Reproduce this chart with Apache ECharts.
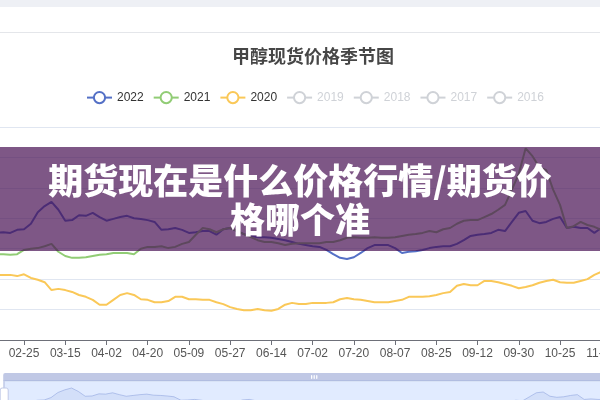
<!DOCTYPE html>
<html>
<head>
<meta charset="utf-8">
<title>甲醇现货价格季节图</title>
<script src="https://cdn.jsdelivr.net/npm/echarts@6/dist/echarts.min.js"></script>
<style>
	html, body { margin: 0; padding: 0; background: #fff; }
	#main { width: 600px; height: 400px; }
</style>
</head>
<body>
<div id="main"></div>
<script>
// 横轴刻度（每 6 个点一个刻度）
var tickLabels = ['02-07', '02-25', '03-15', '04-02', '04-20', '05-09', '05-27', '06-14',
	'07-02', '07-20', '08-07', '08-25', '09-12', '09-30', '10-25', '11-12'];
var seriesNames = ['2022', '2021', '2020', '2019', '2018', '2017', '2016'];

// 各年度价格（元/吨）
var data2022 = [2770, 2760, 2760, 2770, 2760, 2810, 2820, 2910, 3100, 3200,
	3270, 3140, 2960, 2970, 3050, 3040, 3090, 3020, 2960, 2990,
	3020, 3040, 3000, 2990, 2970, 2940, 2810, 2820, 2840, 2810,
	2760, 2770, 2790, 2790, 2730, 2820, 2840, 2790, 2740, 2710,
	2690, 2690, 2680, 2660, 2640, 2610, 2580, 2560, 2540, 2530,
	2480, 2410, 2350, 2330, 2360, 2430, 2510, 2560, 2560, 2560,
	2510, 2430, 2450, 2460, 2480, 2510, 2530, 2540, 2540, 2580,
	2640, 2710, 2730, 2740, 2760, 2810, 2790, 2940, 3090, 3120,
	2960, 2920, 2940, 2990, 3020, 2840, 2860, 2840, 2840, 2760,
	2840, 2870];
var data2021 = [2430, 2430, 2410, 2410, 2400, 2410, 2480, 2500, 2510, 2540,
	2580, 2450, 2380, 2350, 2350, 2360, 2380, 2400, 2410, 2430,
	2430, 2430, 2410, 2500, 2530, 2530, 2540, 2510, 2530, 2580,
	2610, 2730, 2840, 2820, 2770, 2820, 2840, 2790, 2740, 2690,
	2640, 2610, 2610, 2590, 2560, 2580, 2590, 2590, 2590, 2590,
	2610, 2610, 2640, 2680, 2690, 2680, 2680, 2690, 2680, 2680,
	2690, 2710, 2730, 2740, 2760, 2790, 2770, 2820, 2840, 2910,
	2960, 2970, 2970, 3020, 3070, 3140, 3220, 3470, 3730, 4150,
	4020, 3840, 3790, 3470, 3220, 2840, 2870, 2940, 2890, 2860,
	2810, 2790];
var data2020 = [2070, 2070, 2070, 2070, 2070, 2050, 2080, 2020, 1990, 1950,
	1820, 1840, 1820, 1790, 1740, 1710, 1660, 1580, 1580, 1660,
	1740, 1770, 1740, 1670, 1660, 1620, 1620, 1640, 1710, 1710,
	1670, 1670, 1660, 1660, 1620, 1590, 1540, 1510, 1490, 1490,
	1510, 1490, 1480, 1510, 1580, 1610, 1590, 1590, 1610, 1610,
	1610, 1620, 1670, 1690, 1670, 1660, 1640, 1620, 1620, 1620,
	1640, 1660, 1710, 1710, 1710, 1720, 1740, 1770, 1790, 1890,
	1920, 1900, 1900, 1970, 1970, 1950, 1920, 1890, 1850, 1870,
	1900, 1940, 1970, 1990, 1950, 1940, 1940, 1970, 2000, 2070,
	2120, 2150];

// 拼出类目：刻度之间补 5 个点，最后多留一个点
var categories = [];
for (var k = 0; k < tickLabels.length; k++) {
	categories.push(tickLabels[k]);
	var n = k < tickLabels.length - 1 ? 5 : 1;
	for (var j = 1; j <= n; j++) {
		categories.push(tickLabels[k] + '_' + j);
	}
}

var seriesData = {
	'2022': data2022,
	'2021': data2021,
	'2020': data2020
};
var series = [];
for (var i = 0; i < seriesNames.length; i++) {
	series.push({
		name: seriesNames[i],
		type: 'line',
		showSymbol: false,
		symbol: 'emptyCircle',
		lineStyle: { width: 2 },
		data: seriesData[seriesNames[i]] || []
	});
}

var chart = echarts.init(document.getElementById('main'));
var option = {
	animation: false,
	color: ['#5470c6', '#91cc75', '#fac858', '#ee6666', '#73c0de', '#3ba272', '#fc8452'],
	title: {
		text: '甲醇现货价格季节图',
		left: 232,
		top: 47,
		padding: 0,
		textStyle: {
			fontFamily: 'Noto Sans CJK SC',
			fontSize: 18,
			fontWeight: 'bold',
			color: '#464646'
		}
	},
	legend: {
		data: seriesNames,
		left: 86,
		top: 91,
		padding: 0,
		itemGap: 9,
		itemWidth: 25,
		itemHeight: 14,
		textStyle: { fontFamily: 'Liberation Sans', fontSize: 12, color: '#333' },
		selected: { '2019': false, '2018': false, '2017': false, '2016': false }
	},
	grid: {
		left: -17.2,
		right: -8.1,
		top: 127,
		bottom: 60,
		containLabel: false,
		outerBoundsMode: 'none'
	},
	xAxis: {
		type: 'category',
		boundaryGap: false,
		data: categories,
		axisLine: { lineStyle: { color: '#6E7079' } },
		axisTick: { interval: 5, length: 5 },
		axisLabel: {
			interval: 5,
			fontFamily: 'Liberation Sans',
			fontSize: 12,
			color: '#555'
		}
	},
	yAxis: {
		type: 'value',
		min: 1000,
		max: 4500,
		interval: 500,
		axisLabel: { show: false },
		axisLine: { show: false },
		axisTick: { show: false },
		splitLine: { lineStyle: { color: '#E0E6F1' } }
	},
	dataZoom: [{
		type: 'slider',
		xAxisIndex: 0,
		start: 0,
		end: 100,
		left: 0,
		right: -22,
		top: 373,
		height: 40,
		moveHandleSize: 8,
		showDetail: false,
		borderColor: '#d2dbee',
		fillerColor: 'rgba(135,175,274,0.25)'
	}],
	graphic: [
		{ type: 'rect', z: 100, shape: { x: 0, y: 0, width: 600, height: 7 }, style: { fill: '#eef0f5' } },
		{ type: 'line', z: 100, shape: { x1: 0, y1: 32.5, x2: 600, y2: 32.5 }, style: { stroke: '#e4e6ea', lineWidth: 1 } },
		{ type: 'rect', z: 100, shape: { x: 0, y: 147, width: 600, height: 104 }, style: { fill: 'rgba(71,16,82,0.7)' } },
		{
			type: 'text', z: 101,
			style: {
				text: '期货现在是什么价格行情/期货价',
				x: 300, y: 181,
				align: 'center', verticalAlign: 'middle',
				fontFamily: 'Noto Sans CJK SC', fontSize: 35, fontWeight: 900,
				fill: '#fff'
			}
		},
		{
			type: 'text', z: 101,
			style: {
				text: '格哪个准',
				x: 300, y: 220,
				align: 'center', verticalAlign: 'middle',
				fontFamily: 'Noto Sans CJK SC', fontSize: 35, fontWeight: 900,
				fill: '#fff'
			}
		}
	],
	series: series
};
chart.setOption(option);
</script>
</body>
</html>
